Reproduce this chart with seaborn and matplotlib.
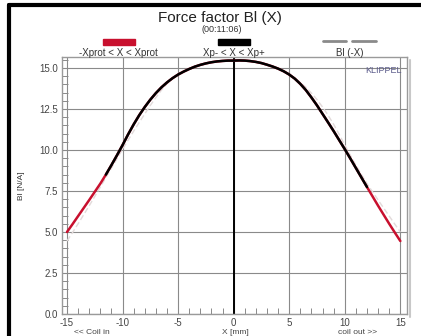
import numpy as np
import pandas as pd
import seaborn as sns
import matplotlib.pyplot as plt
from matplotlib.lines import Line2D
from matplotlib.patches import Rectangle

# ---- data ----
x_mm = [-15, -14.5, -14, -13.5, -13, -12.5, -12, -11.5, -11, -10.5, -10, -9.5, -9, -8.5, -8,
        -7.5, -7, -6.5, -6, -5.5, -5, -4.5, -4, -3.5, -3, -2.5, -2, -1.5, -1, -0.5,
        0, 0.5, 1, 1.5, 2, 2.5, 3, 3.5, 4, 4.5, 5, 5.5, 6, 6.5, 7, 7.5, 8, 8.5, 9, 9.5,
        10, 10.5, 11, 11.5, 12, 12.5, 13, 13.5, 14, 14.5, 15]
bl_x = [5.0, 5.48, 5.97, 6.46, 6.95, 7.45, 7.95, 8.5, 9.08, 9.68, 10.3, 10.95, 11.56, 12.12, 12.62,
        13.07, 13.47, 13.82, 14.12, 14.38, 14.6, 14.78, 14.94, 15.08, 15.19, 15.28, 15.35, 15.4, 15.43, 15.45,
        15.45, 15.46, 15.45, 15.42, 15.37, 15.3, 15.2, 15.09, 14.96, 14.8, 14.6, 14.35, 14.03, 13.65, 13.2,
        12.72, 12.2, 11.68, 11.15, 10.6, 10.05, 9.48, 8.9, 8.32, 7.74, 7.17, 6.6, 6.05, 5.5, 4.97, 4.45]
xp_minus = -11.5
xp_plus = 12.0
x_ticks = [-15, -10, -5, 0, 5, 10, 15]
y_ticks = [0.0, 2.5, 5.0, 7.5, 10.0, 12.5, 15.0]

sns.set_theme(style="white")
plt.rcParams['font.family'] = ['Liberation Sans', 'DejaVu Sans']

df = pd.DataFrame({"x": x_mm, "bl": bl_x})
df_mirror = pd.DataFrame({"x": [-v for v in x_mm], "bl": bl_x})
df_black = df[(df.x >= xp_minus) & (df.x <= xp_plus)]

fig = plt.figure(figsize=(4.21, 3.36), dpi=100)
ax = fig.add_axes([62/421, 22/336, 345/421, 257/336])

# grid
for xv in x_ticks:
    ax.axvline(xv, color="#8a8a8a", lw=0.8, zorder=1)
for yv in y_ticks:
    ax.axhline(yv, color="#8a8a8a", lw=0.8, zorder=1)
ax.axvline(0, color="black", lw=1.4, zorder=2)

sns.lineplot(data=df_mirror, x="x", y="bl", ax=ax, color="#e2dada", lw=1.0,
             linestyle=(0, (4, 2)), zorder=3, legend=False)
sns.lineplot(data=df, x="x", y="bl", ax=ax, color="#c8102e", lw=1.8, zorder=4, legend=False)
sns.lineplot(data=df_black, x="x", y="bl", ax=ax, color="black", lw=1.8, zorder=5, legend=False)

ax.set_xlim(-15.45, 15.6)
ax.set_ylim(0, 15.67)
ax.set_xticks(x_ticks)
ax.set_yticks(y_ticks)
ax.set_xticklabels([str(v) for v in x_ticks])
ax.set_yticklabels([f"{v:.1f}" for v in y_ticks])
ax.set_xticks(np.arange(-15, 16, 1), minor=True)
ax.set_yticks(np.arange(0, 15.6, 0.5), minor=True)
ax.tick_params(axis="both", which="major", labelsize=7, colors="#444444", length=0, pad=3)
ax.tick_params(axis="x", which="minor", direction="in", length=4, color="#777777", width=0.6, bottom=True)
ax.tick_params(axis="y", which="minor", direction="in", length=4, color="#777777", width=0.6, left=True)
ax.set_xlabel("")
ax.set_ylabel("Bl [N/A]", fontsize=6, color="#333333", labelpad=10)
for s in ax.spines.values():
    s.set_color("#9a9a9a")
    s.set_linewidth(1.0)

ax.text(0.985, 0.965, "KLIPPEL", transform=ax.transAxes, ha="right", va="top",
        fontsize=6.5, color="#5a5a8a")

# shadow of plot frame
fig.lines.append(Line2D([410/421, 410/421], [19/336, 1 - 60/336], transform=fig.transFigure,
                        color="#c8c8c8", lw=1.5, figure=fig))

# bottom partial labels
fig.text(92/421, 0, "<< Coil in", ha="center", va="bottom", fontsize=6, color="#444444")
fig.text(235/421, 0, "X [mm]", ha="center", va="bottom", fontsize=6, color="#444444")
fig.text(358/421, 0, "coil out >>", ha="center", va="bottom", fontsize=6, color="#444444")

# title
fig.text(220/421, 1 - 18/336, "Force factor Bl (X)", ha="center", va="center", fontsize=11, color="#222222")
fig.text(222/421, 1 - 29/336, "(00:11:06)", ha="center", va="center", fontsize=6.5, color="#333333")

# legend
fig.patches.append(Rectangle((103/421, 1 - 45/336), 32/421, 6/336, transform=fig.transFigure,
                             color="#c8102e", figure=fig))
fig.patches.append(Rectangle((218/421, 1 - 45/336), 32/421, 6/336, transform=fig.transFigure,
                             color="black", figure=fig))
fig.lines.append(Line2D([323/421, 346/421], [1 - 41/336] * 2, transform=fig.transFigure,
                        color="#8a8a8a", lw=2, figure=fig))
fig.lines.append(Line2D([352/421, 376/421], [1 - 41/336] * 2, transform=fig.transFigure,
                        color="#8a8a8a", lw=2, figure=fig))
fig.text(118/421, 1 - 53/336, "-Xprot < X < Xprot", ha="center", va="center", fontsize=7, color="#333333")
fig.text(234/421, 1 - 53/336, "Xp- < X < Xp+", ha="center", va="center", fontsize=7, color="#333333")
fig.text(350/421, 1 - 53/336, "Bl (-X)", ha="center", va="center", fontsize=7, color="#333333")

# outer frame (left and top black edges)
fig.lines.append(Line2D([9/421, 9/421], [0, 1 - 5/336], transform=fig.transFigure,
                        color="black", lw=3, figure=fig))
fig.lines.append(Line2D([9/421, 1], [1 - 5/336] * 2, transform=fig.transFigure,
                        color="black", lw=3, figure=fig))

fig.savefig("out.png", dpi=100)
